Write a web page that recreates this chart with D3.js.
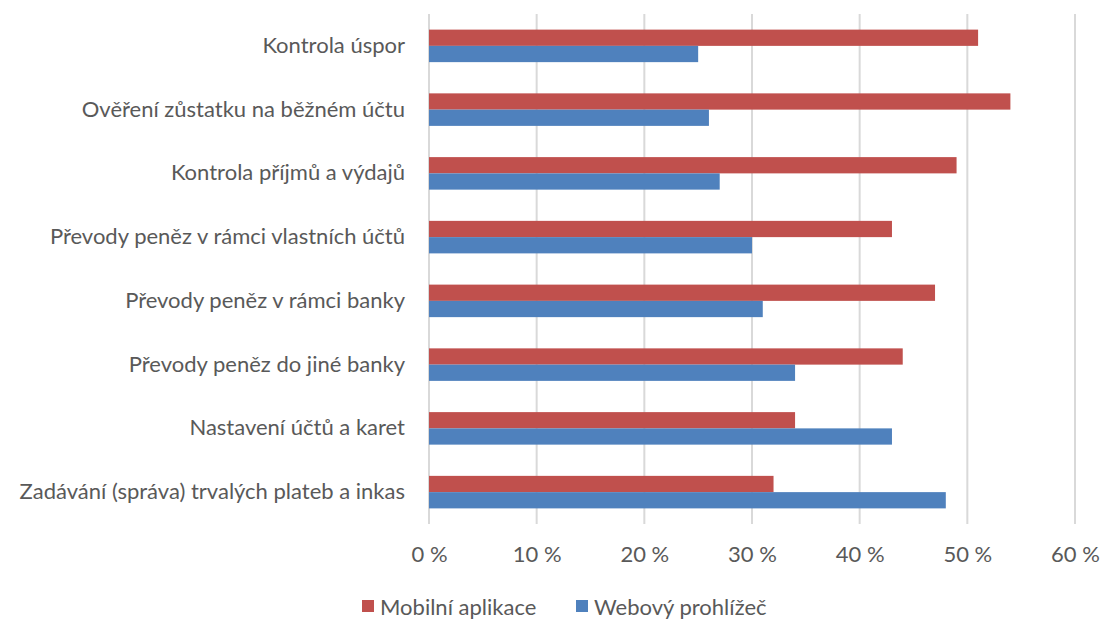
<!DOCTYPE html>
<html>
<head>
<meta charset="utf-8">
<script src="https://cdn.jsdelivr.net/npm/d3@7"></script>
<style>
  body { margin: 0; background: #fff; }
  text { font-family: Lato, "Open Sans", sans-serif; fill: #595959; }
</style>
</head>
<body>
<div id="chart"></div>
<script>
var categories = [
    "Kontrola úspor",
    "Ověření zůstatku na běžném účtu",
    "Kontrola příjmů a výdajů",
    "Převody peněz v rámci vlastních účtů",
    "Převody peněz v rámci banky",
    "Převody peněz do jiné banky",
    "Nastavení účtů a karet",
    "Zadávání (správa) trvalých plateb a inkas"
];
var seriesNames = ["Mobilní aplikace", "Webový prohlížeč"];
var mobileValues = [51, 54, 49, 43, 47, 44, 34, 32];
var webValues = [25, 26, 27, 30, 31, 34, 43, 48];
var tickValues = [0, 10, 20, 30, 40, 50, 60];
var colors = ["#C0504D", "#4F81BD"];

// set the dimensions and margins of the graph
var margin = {top: 14, right: 26, bottom: 95, left: 429},
    width = 1101 - margin.left - margin.right,
    height = 619 - margin.top - margin.bottom;

var svg = d3.select("#chart")
.append("svg")
    .attr("width", 1101)
    .attr("height", 619)
.append("g")
    .attr("transform", "translate(" + margin.left + "," + margin.top + ")");

var x = d3.scaleLinear()
    .domain([0, 60])
    .range([0, width]);

var y = d3.scaleBand()
    .domain(categories)
    .range([0, height])
    .paddingInner(0.49)
    .paddingOuter(0.245);

var ySub = d3.scaleBand()
    .domain(seriesNames)
    .range([0, y.bandwidth()]);

// gridlines
svg.append("g")
    .selectAll("line")
    .data(tickValues)
    .enter()
    .append("line")
    .attr("x1", function(d) { return x(d); })
    .attr("x2", function(d) { return x(d); })
    .attr("y1", 0)
    .attr("y2", height)
    .attr("stroke", "#d9d9d9")
    .attr("stroke-width", 2);

// x axis labels
var xAxis = svg.append("g")
    .attr("transform", "translate(0," + height + ")")
    .call(d3.axisBottom(x).tickValues(tickValues).tickSize(0).tickPadding(22)
        .tickFormat(function(d) { return d + " %"; }));
xAxis.select(".domain").remove();
xAxis.selectAll("text")
    .style("font-size", "22px")
    .attr("font-family", null);

// y axis labels
var yAxis = svg.append("g")
    .call(d3.axisLeft(y).tickSize(0).tickPadding(24));
yAxis.select(".domain").remove();
yAxis.selectAll("text")
    .style("font-size", "22px")
    .attr("font-family", null);

// bars
var rows = categories.map(function(c, i) {
    return {cat: c, vals: [mobileValues[i], webValues[i]]};
});

var groups = svg.selectAll("g.row")
    .data(rows)
    .enter()
    .append("g")
    .attr("class", "row")
    .attr("transform", function(d) { return "translate(0," + y(d.cat) + ")"; });

groups.selectAll("rect")
    .data(function(d) { return d.vals.map(function(v, j) { return {name: seriesNames[j], v: v, j: j}; }); })
    .enter()
    .append("rect")
    .attr("x", x(0))
    .attr("y", function(d) { return ySub(d.name); })
    .attr("width", function(d) { return x(d.v) - x(0); })
    .attr("height", ySub.bandwidth())
    .attr("fill", function(d) { return colors[d.j]; });

// legend
var legend = d3.select("svg").append("g")
    .attr("transform", "translate(0,607)");
var legendX = [362, 576];
seriesNames.forEach(function(name, i) {
    legend.append("rect")
        .attr("x", legendX[i])
        .attr("y", -7)
        .attr("width", 12)
        .attr("height", 12)
        .attr("fill", colors[i]);
    legend.append("text")
        .attr("x", legendX[i] + 18)
        .attr("y", 0)
        .attr("dy", "0.35em")
        .style("font-size", "22px")
        .text(name);
});
</script>
</body>
</html>
